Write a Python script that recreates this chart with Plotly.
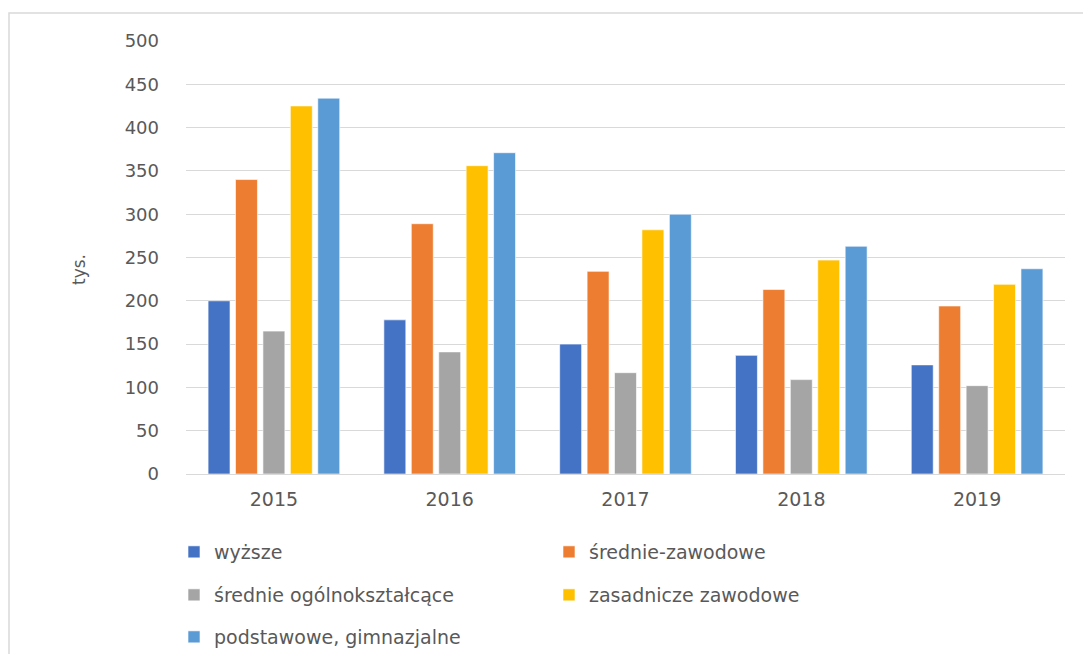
import plotly.graph_objects as go

years = ["2015", "2016", "2017", "2018", "2019"]
series_names = ["wyższe", "średnie-zawodowe", "średnie ogólnokształcące",
                "zasadnicze zawodowe", "podstawowe, gimnazjalne"]
wyzsze = [200, 178, 150, 137, 126]
srednie_zawodowe = [340, 289, 234, 213, 194]
srednie_ogolne = [165, 141, 117, 109, 102]
zasadnicze = [425, 356, 282, 247, 219]
podstawowe = [434, 371, 300, 263, 237]
y_ticks = [0, 50, 100, 150, 200, 250, 300, 350, 400, 450, 500]

values = [wyzsze, srednie_zawodowe, srednie_ogolne, zasadnicze, podstawowe]
colors = ["#4472C4", "#ED7D31", "#A5A5A5", "#FFC000", "#5B9BD5"]
legend_ids = ["legend", "legend", "legend2", "legend2", "legend3"]

FONT = "DejaVu Sans"
TXT = "#595959"

fig = go.Figure()
for name, vals, col, lg in zip(series_names, values, colors, legend_ids):
    fig.add_trace(go.Bar(
        x=years, y=vals, name=name, legend=lg,
        marker=dict(color=col, line=dict(color="rgba(255,255,255,0.6)", width=1)),
    ))

# the page body adds an 8px margin on every side; keep the figure inside the window
OFF = 8
W, H = 1091 - 2 * OFF, 662 - 2 * OFF
L = 186 - OFF
T = 41 - OFF
R = W - (1065 - OFF)
B = H - (474 - OFF)
pw = W - L - R
ph = H - T - B

def px_x(x):
    return (x - OFF - L) / pw

def px_y(y):
    return (H - B - (y - OFF)) / ph

leg_common = dict(orientation="h", xanchor="left", yanchor="middle",
                  entrywidthmode="pixels", entrywidth=330,
                  font=dict(family=FONT, size=19, color=TXT),
                  bgcolor="rgba(0,0,0,0)", itemclick=False)

fig.update_layout(
    width=W, height=H,
    margin=dict(l=L, r=R, t=T, b=B, autoexpand=False),
    paper_bgcolor="white", plot_bgcolor="white",
    font=dict(family=FONT, color=TXT),
    barmode="group", bargap=0.22, bargroupgap=0.2,
    showlegend=True,
    legend=dict(x=px_x(174), y=px_y(552), **leg_common),
    legend2=dict(x=px_x(174), y=px_y(595), **leg_common),
    legend3=dict(x=px_x(174), y=px_y(637), **leg_common),
    xaxis=dict(showgrid=False, showline=False, ticks="", automargin=False,
               tickfont=dict(family=FONT, size=19, color=TXT),
               ticklabelstandoff=12),
    yaxis=dict(range=[0, 500], tickvals=y_ticks, showgrid=True, automargin=False,
               gridcolor="#d9d9d9", gridwidth=1, zeroline=True,
               zerolinecolor="#d9d9d9", zerolinewidth=1, showline=False,
               ticks="", tickfont=dict(family=FONT, size=18, color=TXT),
               ticklabelstandoff=26),
    annotations=[dict(text="tys.", textangle=-90, xref="paper", yref="paper",
                      x=px_x(67), y=px_y(270), showarrow=False,
                      font=dict(family=FONT, size=17, color=TXT))],
    shapes=[dict(type="rect", xref="paper", yref="paper",
                 x0=px_x(9), x1=px_x(1095), y0=px_y(720), y1=px_y(13),
                 line=dict(color="#d9d9d9", width=1.5), layer="below")],
)

fig.write_html("out.html")
